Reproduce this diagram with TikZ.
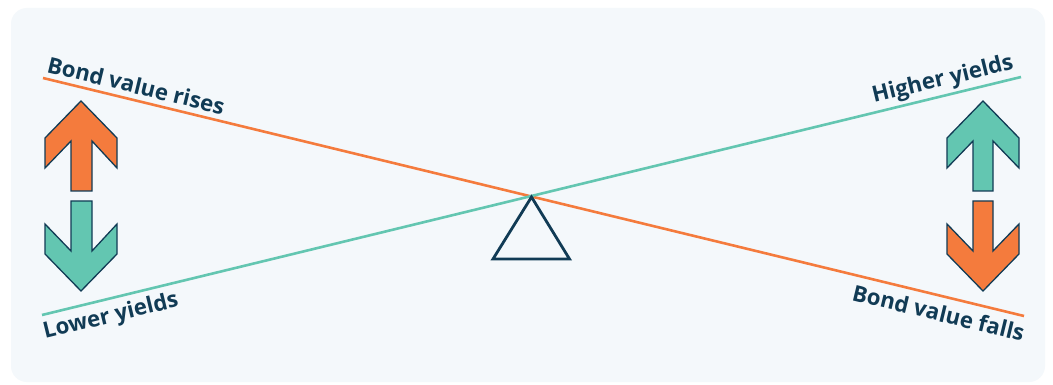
\documentclass[tikz,border=0pt]{standalone}
\usepackage{fontspec}
\setmainfont{Open Sans}
\definecolor{bgc}{HTML}{F4F8FB}
\definecolor{orng}{HTML}{F47B3D}
\definecolor{teal2}{HTML}{63C6B1}
\definecolor{navy}{HTML}{113B55}
\begin{document}
\begin{tikzpicture}[x=1pt,y=-1pt,
  lbl/.style={font=\bfseries\fontsize{22.2}{26}\selectfont, text=navy, inner sep=0pt},
  balline/.style={line width=2.6pt},
  arrowshape/.style={draw=navy, line width=1.3pt, line join=miter},
  fulcrum/.style={draw=navy, line width=2.8pt, line join=miter}]
\useasboundingbox (0,0) rectangle (1053,385);
\fill[white] (0,0) rectangle (1053,385);
\fill[bgc, rounded corners=16pt] (11,8) rectangle (1045,382);
% beam lines
\coordinate (oL) at (43,78);
\coordinate (oR) at (1024,316);
\coordinate (tL) at (42,315);
\coordinate (tR) at (1021,77);
\draw[balline, orng] (oL) -- (oR);
\draw[balline, teal2] (tL) -- (tR);
% fulcrum
\coordinate (apex) at (531.5,197);
\coordinate (bl) at (493,259);
\coordinate (br) at (569.5,259);
\draw[fulcrum] (apex) -- (bl) -- (br) -- cycle;
% left arrows
\fill[orng] (81,101) -- (117,138) -- (117,168) -- (92,141) -- (92,191) -- (71,191) -- (71,141) -- (45,168) -- (45,138) -- cycle;
\draw[arrowshape] (81,101) -- (117,138) -- (117,168) -- (92,141) -- (92,191) -- (71,191) -- (71,141) -- (45,168) -- (45,138) -- cycle;
\fill[teal2] (81,291) -- (117,254) -- (117,224) -- (92,251) -- (92,201) -- (71,201) -- (71,251) -- (45,224) -- (45,254) -- cycle;
\draw[arrowshape] (81,291) -- (117,254) -- (117,224) -- (92,251) -- (92,201) -- (71,201) -- (71,251) -- (45,224) -- (45,254) -- cycle;
% right arrows
\fill[teal2] (983,101) -- (1019,138) -- (1019,168) -- (993,141) -- (993,191) -- (973,191) -- (973,141) -- (947,168) -- (947,138) -- cycle;
\draw[arrowshape] (983,101) -- (1019,138) -- (1019,168) -- (993,141) -- (993,191) -- (973,191) -- (973,141) -- (947,168) -- (947,138) -- cycle;
\fill[orng] (983,291) -- (1019,254) -- (1019,224) -- (993,251) -- (993,201) -- (973,201) -- (973,251) -- (947,224) -- (947,254) -- cycle;
\draw[arrowshape] (983,291) -- (1019,254) -- (1019,224) -- (993,251) -- (993,201) -- (973,201) -- (973,251) -- (947,224) -- (947,254) -- cycle;
% labels
\node[lbl, anchor=base west, rotate=-13.64] (rises) at (46,72) {Bond value rises};
\node[lbl, anchor=base west, rotate=13.67] (higher) at (874,103) {Higher yields};
\node[lbl, anchor=base west, rotate=13.67] (lower) at (45,339) {Lower yields};
\node[lbl, anchor=base west, rotate=-13.64] (falls) at (851,300) {Bond value falls};
\end{tikzpicture}
\end{document}
